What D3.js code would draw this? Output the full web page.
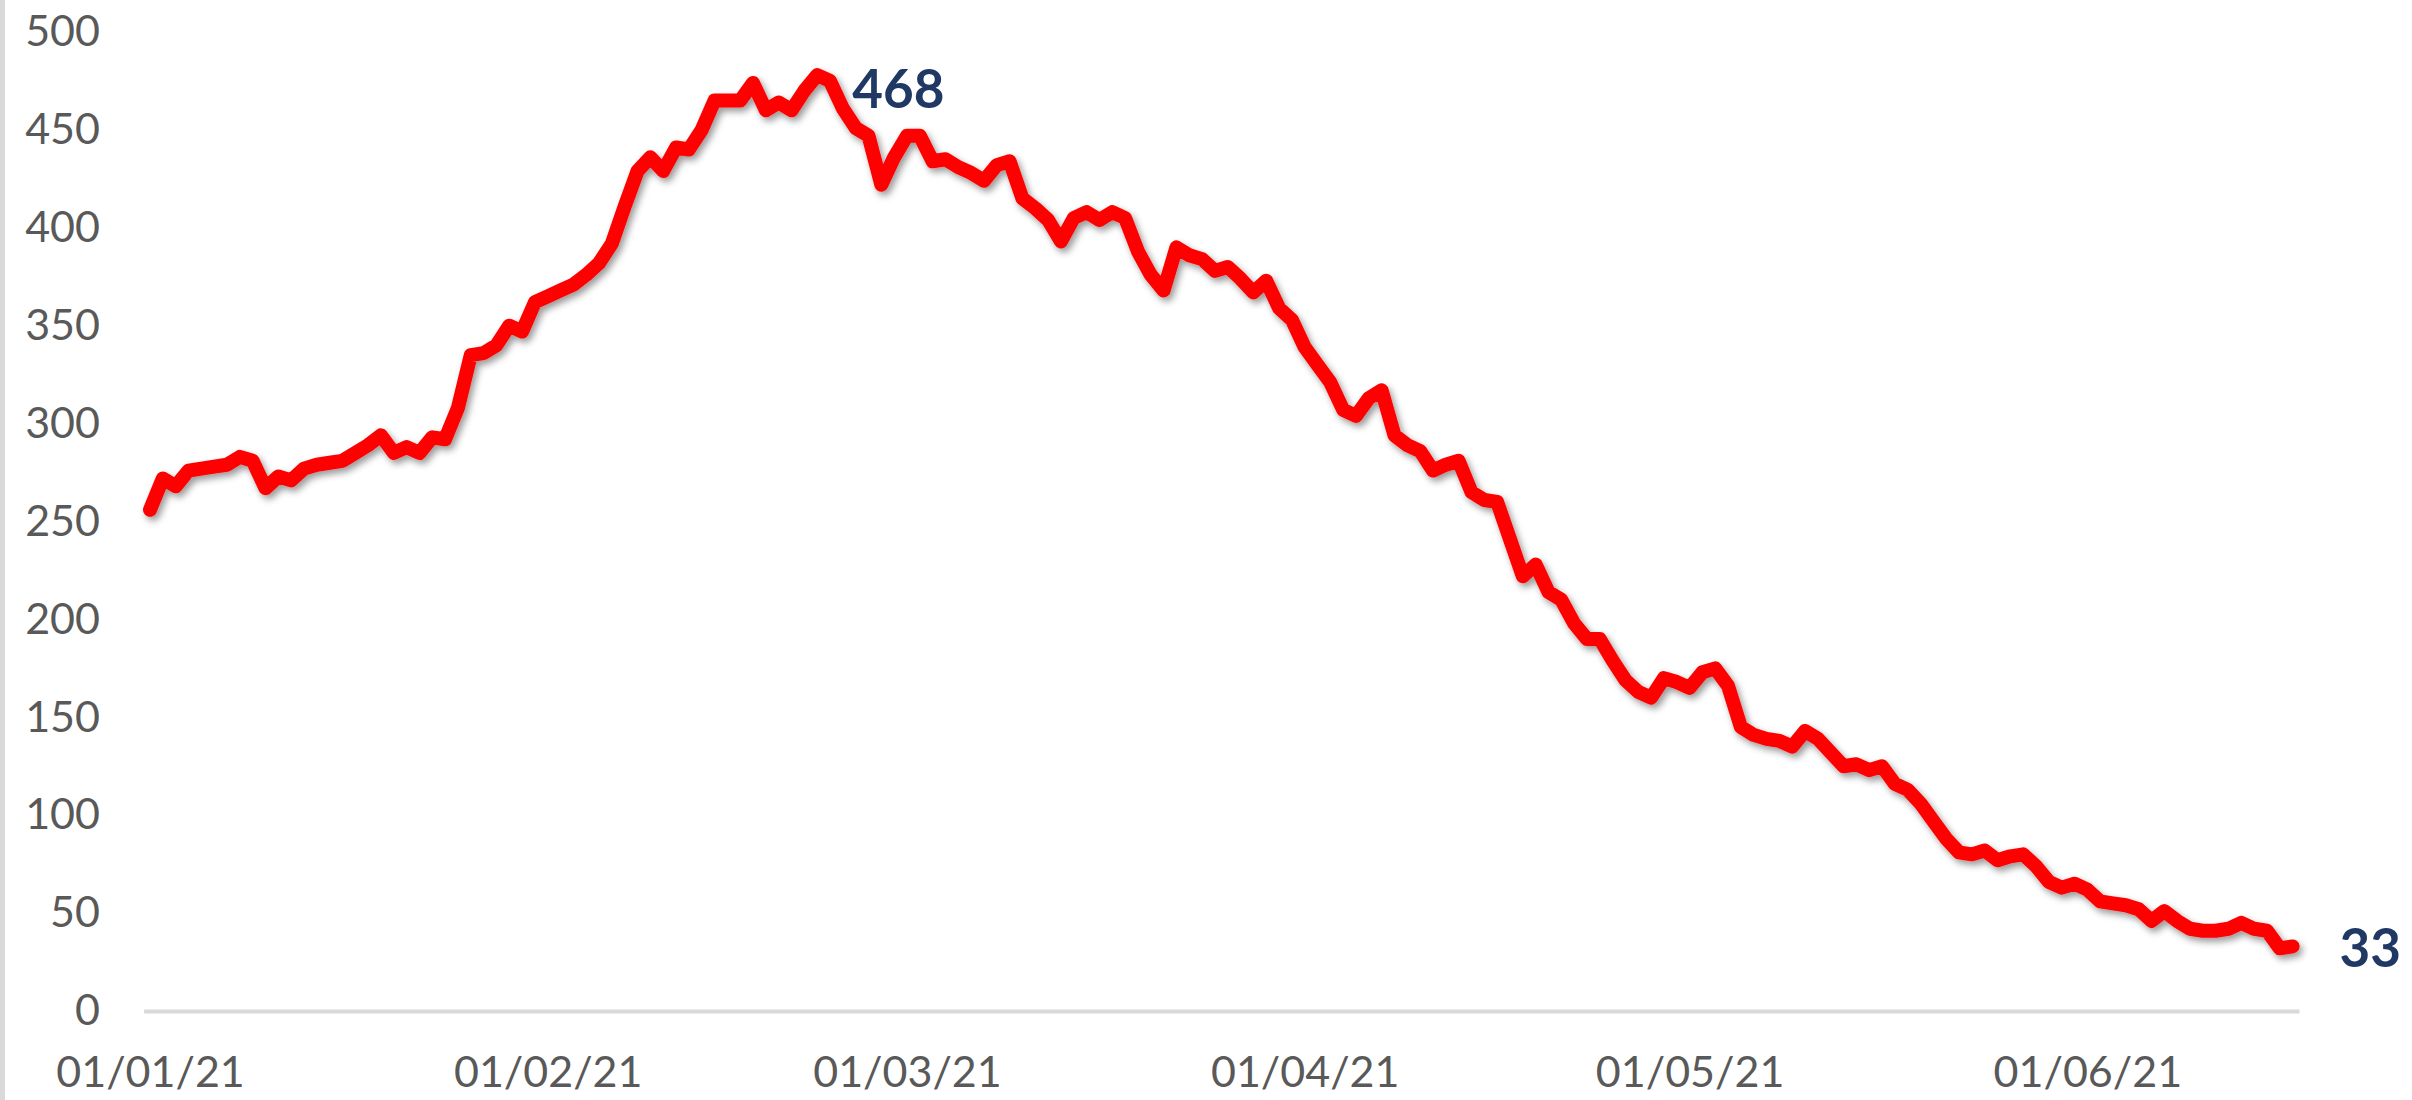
<!DOCTYPE html>
<html>
<head>
<meta charset="utf-8">
<script src="https://cdn.jsdelivr.net/npm/d3@7"></script>
<style>
  html, body { margin: 0; padding: 0; background: #ffffff; }
  svg { display: block; }
</style>
</head>
<body>
<svg id="chart" width="2412" height="1100"></svg>
<script>
// ---- data ----
const startDate = "2021-01-01";
const values = [
  256, 272, 268, 276, 277, 278, 279, 283, 281, 267,
  273, 271, 277, 279, 280, 281, 285, 289, 294, 285,
  288, 285, 293, 292, 308, 335, 336, 340, 350, 347,
  362, 365, 368, 371, 376, 382, 392, 411, 429, 436,
  429, 441, 440, 450, 465, 465, 465, 474, 460, 464,
  460, 470, 478, 475, 461, 451, 447, 422, 436, 447,
  447, 434, 435, 431, 428, 424, 432, 434, 415, 410,
  404, 393, 405, 408, 404, 408, 405, 388, 376, 368,
  390, 386, 384, 378, 380, 374, 367, 373, 359, 353,
  339, 330, 321, 307, 304, 313, 317, 294, 289, 286,
  276, 279, 281, 265, 261, 260, 241, 222, 228, 214,
  210, 198, 190, 190, 179, 169, 163, 160, 170, 168,
  165, 173, 175, 166, 145, 141, 139, 138, 135, 143,
  139, 132, 125, 126, 123, 125, 116, 113, 106, 97,
  88, 81, 80, 82, 77, 79, 80, 74, 66, 63,
  65, 62, 56, 55, 54, 52, 46, 51, 46, 42,
  41, 41, 42, 45, 42, 41, 32, 33
];
const xTickLabels = ["01/01/21", "01/02/21", "01/03/21", "01/04/21", "01/05/21", "01/06/21"];
const yTicks = [0, 50, 100, 150, 200, 250, 300, 350, 400, 450, 500];
const peakLabel = "468";
const lastLabel = "33";

// ---- build ----
const parse = d3.timeParse("%Y-%m-%d");
const parseTick = d3.timeParse("%d/%m/%y");
const start = parse(startDate);
const data = values.map((v, i) => ({ date: d3.timeDay.offset(start, i), value: v }));
const first = data[0].date, last = data[data.length - 1].date;

const svg = d3.select("#chart");

const x = d3.scaleTime()
  .domain([d3.timeHour.offset(first, -12), d3.timeHour.offset(last, 12)])
  .range([143.6, 2299]);
const y = d3.scaleLinear().domain([0, 500]).range([1011, 32]);

// left frame edge
svg.append("rect").attr("x", 0).attr("y", 0).attr("width", 5).attr("height", 1100).attr("fill", "#d9d9d9");

// shadow filter
const defs = svg.append("defs");
const f = defs.append("filter").attr("id", "shadow")
  .attr("x", "-5%").attr("y", "-5%").attr("width", "110%").attr("height", "115%");
f.append("feDropShadow").attr("dx", 3).attr("dy", 4).attr("stdDeviation", 3.5)
  .attr("flood-color", "#000").attr("flood-opacity", 0.4);

// x axis
const xAxis = d3.axisBottom(x)
  .tickValues(xTickLabels.map(s => parseTick(s)))
  .tickFormat(d3.timeFormat("%d/%m/%y"))
  .tickSize(0).tickPadding(45);
const gx = svg.append("g").attr("transform", "translate(0,1011)").call(xAxis);
gx.select(".domain").attr("stroke", "#d9d9d9").attr("stroke-width", 4);
gx.selectAll("text").attr("fill", "#595959").style("font-family", "Lato, 'Open Sans', sans-serif").style("font-size", "43px");

// y axis
const yAxis = d3.axisLeft(y).tickValues(yTicks).tickSize(0).tickPadding(43).tickFormat(d3.format("d"));
const gy = svg.append("g").attr("transform", "translate(143,0)").call(yAxis);
gy.select(".domain").remove();
gy.selectAll("text").attr("fill", "#595959").style("font-family", "Lato, 'Open Sans', sans-serif").style("font-size", "43px");

// line
const line = d3.line().x(d => x(d.date)).y(d => y(d.value)).curve(d3.curveLinear);
svg.append("path").datum(data)
  .attr("d", line)
  .attr("fill", "none")
  .attr("stroke", "#ff0000")
  .attr("stroke-width", 14)
  .attr("stroke-linejoin", "round")
  .attr("stroke-linecap", "round")
  .attr("filter", "url(#shadow)");

// labels
const peak = data.reduce((a, b) => (b.value > a.value ? b : a));
svg.append("text")
  .attr("x", x(peak.date) + 35)
  .attr("y", y(peak.value) + 14)
  .attr("dy", "0.36em")
  .attr("fill", "#1f3864")
  .style("font-family", "Lato, 'Open Sans', sans-serif")
  .style("font-weight", "bold")
  .style("font-size", "53px")
  .text(peakLabel);

const lastPt = data[data.length - 1];
svg.append("text")
  .attr("x", x(lastPt.date) + 47)
  .attr("y", y(lastPt.value) + 2)
  .attr("dy", "0.36em")
  .attr("fill", "#1f3864")
  .style("font-family", "Lato, 'Open Sans', sans-serif")
  .style("font-weight", "bold")
  .style("font-size", "53px")
  .text(lastLabel);
</script>
</body>
</html>
